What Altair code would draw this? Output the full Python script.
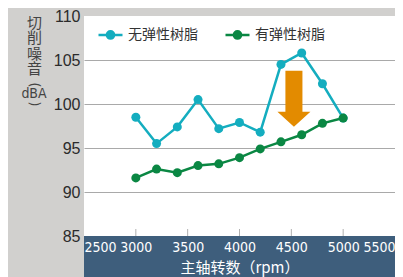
import altair as alt
import pandas as pd

# ---- data ----
rpm = [3000, 3200, 3400, 3600, 3800, 4000, 4200, 4400, 4600, 4800, 5000]
no_elastic = [98.5, 95.5, 97.4, 100.5, 97.2, 97.9, 96.8, 104.5, 105.8, 102.3, 98.4]
elastic = [91.6, 92.6, 92.2, 93.0, 93.2, 93.9, 94.9, 95.7, 96.5, 97.8, 98.4]
series_names = ["无弹性树脂", "有弹性树脂"]
series_colors = ["#14adbf", "#0a8743"]
x_ticks = [2500, 3000, 3500, 4000, 4500, 5000, 5500]
inner_ticks = [3000, 3500, 4000, 4500, 5000]
y_ticks = [85, 90, 95, 100, 105, 110]
arrow_rpm = [4525]
arrow_db = [100.6]

rows = []
for r, v in zip(rpm, no_elastic):
    rows.append({"rpm": r, "db": v, "series": series_names[0]})
for r, v in zip(rpm, elastic):
    rows.append({"rpm": r, "db": v, "series": series_names[1]})
df = pd.DataFrame(rows)

W, H = 311, 220
PB = 41
xs = alt.Scale(domain=[2500, 5500], nice=False, zero=False)
ys = alt.Scale(domain=[85, 110], nice=False, zero=False)

num_font = "Liberation Sans"
narrow_font = "Liberation Sans Narrow, DejaVu Sans Condensed, Liberation Sans"
cjk_font = "Noto Sans CJK SC"

one = pd.DataFrame({"a": [0]})

# blue band under the plot (x axis area)
band = alt.Chart(one).mark_rect(color="#3e5e7c").encode(
    x=alt.value(0), x2=alt.value(W), y=alt.value(H), y2=alt.value(H + PB + 5)
)

# inner ticks
ticks = alt.Chart(pd.DataFrame({"rpm": inner_ticks})).mark_rule(
    color="#b0b0b0", strokeWidth=1
).encode(
    x=alt.X("rpm:Q", scale=xs),
    y=alt.value(H - 7),
    y2=alt.value(H),
)

legend_path = (
    "M-1,0L1,0"
    "M0.3,0A0.3,0.3,0,1,1,-0.3,0A0.3,0.3,0,1,1,0.3,0"
    "M0.18,0A0.18,0.18,0,1,1,-0.18,0A0.18,0.18,0,1,1,0.18,0"
    "M0.07,0A0.07,0.07,0,1,1,-0.07,0A0.07,0.07,0,1,1,0.07,0"
)

color = alt.Color(
    "series:N",
    scale=alt.Scale(domain=series_names, range=series_colors),
    sort=series_names,
    legend=alt.Legend(
        title=None,
        orient="none",
        legendX=13,
        legendY=5,
        direction="horizontal",
        symbolType=legend_path,
        symbolSize=576,
        symbolStrokeWidth=2.5,
        symbolOpacity=1,
        labelFont=cjk_font,
        labelFontSize=14,
        labelColor="#333333",
        labelOffset=4,
        columnPadding=22,
        padding=0,
        symbolOffset=0,
    ),
)

lines = alt.Chart(df).mark_line(
    strokeWidth=2.5,
    point=alt.OverlayMarkDef(filled=True, size=81, opacity=1),
).encode(
    x=alt.X(
        "rpm:Q",
        scale=xs,
        axis=alt.Axis(
            values=x_ticks,
            format="d",
            domain=False,
            ticks=False,
            grid=False,
            labelFlush=True,
            labelFont=narrow_font,
            labelFontSize=14,
            labelColor="white",
            labelPadding=4,
            title="主轴转数（rpm）",
            titleFont=cjk_font,
            titleFontSize=15,
            titleFontWeight="normal",
            titleColor="white",
            titlePadding=6,
            zindex=1,
        ),
    ),
    y=alt.Y(
        "db:Q",
        scale=ys,
        axis=alt.Axis(
            values=y_ticks,
            domain=False,
            ticks=False,
            grid=True,
            gridColor="#a9a9a9",
            gridWidth=1,
            gridOpacity={"condition": {"test": "datum.value >= 110", "value": 0}, "value": 1},
            labelFont=num_font,
            labelFontSize=16,
            labelColor="#2b2b2b",
            labelPadding=4,
            title=["切", "削", "噪", "音"],
            titleFont=cjk_font,
            titleFontSize=15,
            titleFontWeight="normal",
            titleColor="#444444",
            titleLineHeight=15.5,
            titleAngle=0,
            titleAlign="center",
            titleBaseline="top",
            titleX=-50,
            titleY=-1,
            zindex=0,
        ),
    ),
    color=color,
)

unit_common = dict(font=narrow_font, color="#444444", align="center", baseline="middle")
paren_open = alt.Chart(one).mark_text(fontSize=14, angle=90, **unit_common).encode(
    x=alt.value(-50), y=alt.value(69), text=alt.value("(")
)
unit_text = alt.Chart(one).mark_text(fontSize=14, **unit_common).encode(
    x=alt.value(-50), y=alt.value(78), text=alt.value("dBA")
)
paren_close = alt.Chart(one).mark_text(fontSize=14, angle=90, **unit_common).encode(
    x=alt.value(-50), y=alt.value(88), text=alt.value(")")
)

arrow_shape = "M-0.304,-1L0.304,-1L0.304,0.464L0.589,0.464L0,1L-0.589,0.464L-0.304,0.464Z"
arrow = alt.Chart(pd.DataFrame({"rpm": arrow_rpm, "db": arrow_db})).mark_point(
    shape=arrow_shape, filled=True, size=3136, color="#e38b00", opacity=1, strokeWidth=0
).encode(
    x=alt.X("rpm:Q", scale=xs),
    y=alt.Y("db:Q", scale=ys),
)

chart = alt.layer(band, ticks, arrow, lines, paren_open, unit_text, paren_close).properties(
    width=W,
    height=H,
    autosize=alt.AutoSizeParams(type="none"),
    padding={"left": 76, "top": 8, "right": 0, "bottom": PB},
).configure(
    background="#d1d0ce",
).configure_view(
    fill="white",
    stroke=None,
)

chart.save("out.html", embed_options={"renderer": "svg", "actions": False})
